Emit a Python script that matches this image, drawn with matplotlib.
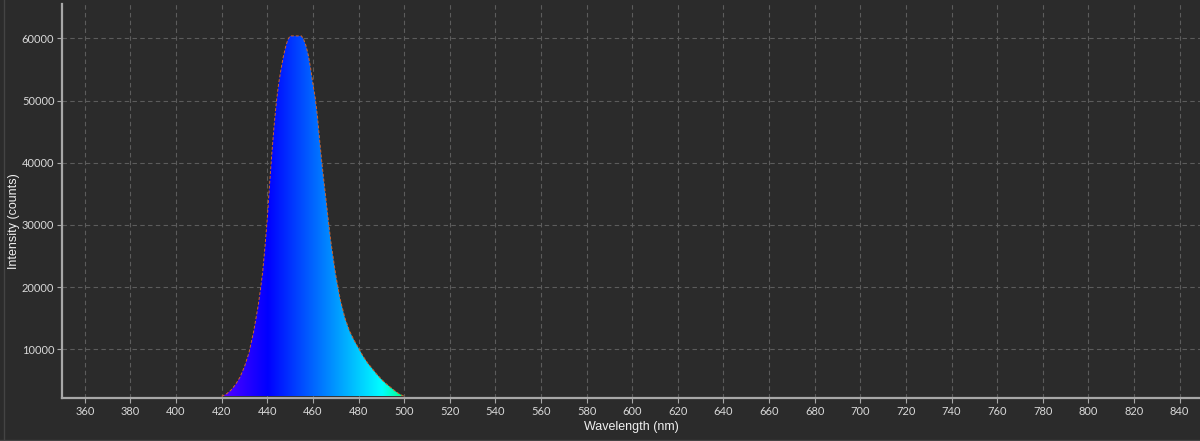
import numpy as np
import matplotlib
matplotlib.use("Agg")
import matplotlib.pyplot as plt
from matplotlib.lines import Line2D

# ---- data ----
wavelength = [420, 422, 424, 426, 428, 430, 432, 434, 436, 437, 438, 439, 440, 441,
              442, 443, 444, 445, 446, 447, 448, 449, 450, 452, 454, 455, 456, 457,
              458, 459, 460, 461, 462, 463, 464, 465, 466, 467, 468, 469, 470, 471,
              472, 474, 476, 478, 480, 482, 484, 486, 488, 490, 492, 494, 496, 498, 500]
intensity = [2450, 2800, 3400, 4300, 5500, 7200, 9500, 12800, 17000, 19600, 22500, 26500,
             31000, 36500, 41500, 46000, 49800, 52800, 55000, 57000, 58600, 59800, 60400,
             60400, 60400, 60400, 59800, 58800, 57300, 55200, 52700, 50500, 47500, 43500,
             39800, 36500, 33300, 30000, 27000, 24500, 22000, 20000, 18000, 15100, 13000,
             11500, 10200, 8900, 7800, 6900, 6000, 5200, 4500, 3900, 3300, 2800, 2450]
x_ticks = list(range(360, 841, 20))
y_ticks = [10000, 20000, 30000, 40000, 50000, 60000]
x_label = "Wavelength (nm)"
y_label = "Intensity (counts)"

wl = np.array(wavelength, dtype=float)
it = np.array(intensity, dtype=float)


def wl_to_rgb(l):
    l = np.asarray(l, dtype=float)
    r = np.zeros_like(l); g = np.zeros_like(l); b = np.zeros_like(l)
    m = (l >= 380) & (l < 440)
    r[m] = -(l[m] - 440) / 60.0; b[m] = 1
    m = (l >= 440) & (l < 490)
    g[m] = (l[m] - 440) / 50.0; b[m] = 1
    m = (l >= 490) & (l <= 510)
    g[m] = 1; b[m] = -(l[m] - 510) / 20.0
    return np.stack([r, g, b], axis=-1)


BG = "#2b2b2b"
fig = plt.figure(figsize=(12, 4.41), dpi=100, facecolor=BG)
ax_w = 1 - 62 / 1200 + 0.002
ax = fig.add_axes([62 / 1200, 1 - 398 / 441, ax_w, (398 - 4) / 441])
ax.set_facecolor(BG)

ymin, ymax = 2170, 65535
ax.set_xlim(350, 850)
ax.set_ylim(ymin, ymax)

# gradient fill clipped to the spectrum
poly = ax.fill_between(wl, it, it.min(), facecolor="none", edgecolor="none")
lam = np.linspace(wl.min(), wl.max(), 400)
img = wl_to_rgb(lam)[np.newaxis, :, :]
im = ax.imshow(img, extent=[wl.min(), wl.max(), it.min(), it.max() + 200],
               aspect="auto", origin="lower", interpolation="bilinear", zorder=3)
im.set_clip_path(poly.get_paths()[0], transform=ax.transData)
ax.plot(wl, it, color="#d0622a", lw=0.7, ls=(0, (3, 2)), zorder=4)

ax.set_xticks(x_ticks)
ax.set_yticks(y_ticks)
ax.grid(True, color="#5c5c5c", ls=(0, (4, 3)), lw=0.8)
ax.set_axisbelow(True)

for s in ["top", "right"]:
    ax.spines[s].set_visible(False)
for s in ["left", "bottom"]:
    ax.spines[s].set_color("#a8a8a8")
    ax.spines[s].set_linewidth(1.6)

ax.tick_params(axis="both", colors="#a8a8a8", labelcolor="#d8d8d8", labelsize=8,
               length=3.5, width=0.8, direction="out", pad=2)
for lbl in ax.get_xticklabels() + ax.get_yticklabels():
    lbl.set_family("Lato")

ax.set_xlabel(x_label, color="#f0f0f0", fontsize=9, family="Liberation Sans")
ax.set_ylabel(y_label, color="#f0f0f0", fontsize=9, family="Liberation Sans")
ax.xaxis.set_label_coords((631 - 62) / (ax_w * 1200), -(427 - 398) / 394)
ax.xaxis.label.set_va("center")
ax.yaxis.set_label_coords(-(62 - 14) / (ax_w * 1200), 0.5 - (221 - 201) / 394)
ax.yaxis.label.set_va("center")

# outer frame lines
fig.add_artist(Line2D([3.5 / 1200, 3.5 / 1200], [0, 1], transform=fig.transFigure,
                      color="#444444", lw=1))
fig.add_artist(Line2D([0, 1], [1 - 439.5 / 441, 1 - 439.5 / 441], transform=fig.transFigure,
                      color="#444444", lw=1))

fig.savefig("out.png", dpi=100, facecolor=BG)
